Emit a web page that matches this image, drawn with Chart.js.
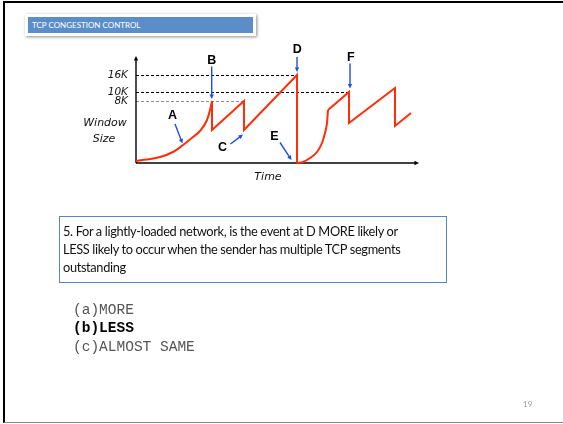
<!DOCTYPE html>
<html>
<head>
<meta charset="utf-8">
<script src="https://cdn.jsdelivr.net/npm/chart.js@4.4.0/dist/chart.umd.min.js"></script>
<style>
body { margin: 0; background: #fff; width: 563px; height: 424px; overflow: hidden; position: relative; }
#frame { position: absolute; left: 3px; top: 1px; width: 600px; height: 422px; box-sizing: border-box;
  border-top: 2px solid #000; border-left: 2px solid #000; border-bottom: 1px solid #8a8a8a; }
#mycanvas { position: absolute; left: 0; top: 0; }
#title { position: absolute; left: 25px; top: 14px; width: 231px; height: 22px; background: #fff;
  box-shadow: 1px 1px 3px rgba(0,0,0,0.45); }
#title div { position: absolute; left: 3px; top: 3px; width: 225px; height: 16px; background: #5b8ec8;
  color: #fff; font: 8px Lato, sans-serif; line-height: 16px; padding-left: 4px; box-sizing: border-box; }
#question { position: absolute; left: 59px; top: 216px; width: 388px; height: 67px; box-sizing: border-box;
  border: 1.5px solid #5a86c0; padding: 5px 0 0 3px; font: 12.8px Lato, sans-serif; line-height: 18px;
  letter-spacing: -0.35px; color: #111; white-space: nowrap; }
#options { position: absolute; left: 73px; top: 301px; font: 14.5px "Liberation Mono", monospace;
  line-height: 18.3px; color: #555; white-space: pre; }
#options .pick { font-weight: bold; color: #000; }
#page { position: absolute; left: 523px; top: 399px; font: 8px Lato, sans-serif; color: #999; }
</style>
</head>
<body>
<div id="frame"></div>
<canvas id="mycanvas" width="563" height="424"></canvas>
<div id="title"><div>TCP CONGESTION CONTROL</div></div>
<div id="question">5. For a lightly-loaded network, is the event at D MORE likely or<br>LESS likely to occur when the sender has multiple TCP segments<br>outstanding</div>
<div id="options"><div>(a)MORE</div><div class="pick">(b)LESS</div><div>(c)ALMOST SAME</div></div>
<div id="page">19</div>
<script>
// congestion window (schematic units) against time
var slowStart1Time = [0, 24, 37, 47, 57, 64, 71, 74, 76];
var slowStart1Win = [2, 6, 11, 18, 26, 32, 43, 53, 62];
var sawtoothTime = [76, 76, 108, 108, 161, 161];
var sawtoothWin = [62, 33, 62, 33, 88, 0];
var slowStart2Time = [161, 167, 174, 181, 186, 189, 191, 192];
var slowStart2Win = [0, 1, 5, 11, 20, 30, 40, 53];
var sawtooth2Time = [192, 213, 213, 259, 259, 275];
var sawtooth2Win = [53, 71, 40, 75, 37, 50];

var tickValues = [62, 71, 88];
var tickLabels = ['8K', '10K', '16K'];
var guideEnds = [108, 213, 161];

var RED = '#ff2d0a';
var BLUE = '#1f4fe0';

function points(xs, ys) {
	var out = [];
	for (var i = 0; i < xs.length; i++) out.push({x: xs[i], y: ys[i]});
	return out;
}

function lineSet(xs, ys, curved) {
	return {
		data: points(xs, ys),
		borderColor: RED,
		borderWidth: 2,
		pointRadius: 0,
		fill: false,
		clip: false,
		borderJoinStyle: 'miter',
		cubicInterpolationMode: curved ? 'monotone' : 'default',
		tension: 0
	};
}

function arrow(ctx, x1, y1, x2, y2, h) {
	var ang = Math.atan2(y2 - y1, x2 - x1);
	ctx.beginPath();
	ctx.moveTo(x1, y1);
	ctx.lineTo(x2 - Math.cos(ang) * h * 0.7, y2 - Math.sin(ang) * h * 0.7);
	ctx.stroke();
	ctx.beginPath();
	ctx.moveTo(x2, y2);
	ctx.lineTo(x2 - h * Math.cos(ang - 0.45), y2 - h * Math.sin(ang - 0.45));
	ctx.lineTo(x2 - h * Math.cos(ang + 0.45), y2 - h * Math.sin(ang + 0.45));
	ctx.closePath();
	ctx.fill();
}

// letter callouts, in data units: label position, arrow start, arrow end
var callouts = [
	{t: 'A', at: [36.5, 47], from: [39, 39], to: [46.5, 19.5]},
	{t: 'B', at: [75.7, 102.5], from: [75.7, 96.5], to: [75.7, 64]},
	{t: 'C', at: [86.5, 15.5], from: [94.5, 19], to: [107, 28.5]},
	{t: 'D', at: [161.3, 113], from: [161, 106], to: [161, 91]},
	{t: 'E', at: [138.3, 26.5], from: [144, 20.5], to: [155.5, 3]},
	{t: 'F', at: [214.7, 105.7], from: [214, 99.5], to: [214, 74.5]}
];

var extras = {
	id: 'extras',
	beforeDatasetsDraw: function(chart) {
		var ctx = chart.ctx, a = chart.chartArea, xs = chart.scales.x, ys = chart.scales.y;
		ctx.save();
		// dashed guides from the axis to the peaks
		ctx.lineWidth = 1;
		ctx.setLineDash([3, 2]);
		for (var i = 0; i < tickValues.length; i++) {
			ctx.strokeStyle = i == 0 ? '#8c8c8c' : '#000';
			var y = Math.round(ys.getPixelForValue(tickValues[i])) + 0.5;
			ctx.beginPath();
			ctx.moveTo(a.left, y);
			ctx.lineTo(xs.getPixelForValue(guideEnds[i]), y);
			ctx.stroke();
		}
		ctx.setLineDash([]);
		// axes with arrow heads
		ctx.strokeStyle = '#000';
		ctx.fillStyle = '#000';
		ctx.lineWidth = 1.4;
		arrow(ctx, a.left, a.bottom, a.left, a.top - 1, 5);
		arrow(ctx, a.left, a.bottom, a.right + 1, a.bottom, 5);
		// axis titles
		ctx.font = 'italic 11px "DejaVu Sans"';
		ctx.textAlign = 'center';
		ctx.textBaseline = 'middle';
		ctx.fillStyle = '#111';
		ctx.fillText('Window', a.left - 31, ys.getPixelForValue(40));
		ctx.fillText('Size', a.left - 32, ys.getPixelForValue(24));
		ctx.fillText('Time', xs.getPixelForValue(132), a.bottom + 14);
		ctx.restore();
	},
	afterDatasetsDraw: function(chart) {
		var ctx = chart.ctx, xs = chart.scales.x, ys = chart.scales.y;
		ctx.save();
		ctx.font = 'bold 12.5px "Liberation Sans"';
		ctx.textAlign = 'center';
		ctx.textBaseline = 'middle';
		ctx.strokeStyle = BLUE;
		ctx.lineWidth = 1.4;
		callouts.forEach(function(c) {
			ctx.fillStyle = '#000';
			ctx.fillText(c.t, xs.getPixelForValue(c.at[0]), ys.getPixelForValue(c.at[1]));
			ctx.fillStyle = BLUE;
			arrow(ctx, xs.getPixelForValue(c.from[0]), ys.getPixelForValue(c.from[1]),
				xs.getPixelForValue(c.to[0]), ys.getPixelForValue(c.to[1]), 5);
		});
		ctx.restore();
	}
};

var ctx = document.getElementById('mycanvas');

var chart = new Chart(ctx, {
	type: 'line',
	data: {
		datasets: [
			lineSet(slowStart1Time, slowStart1Win, true),
			lineSet(sawtoothTime, sawtoothWin, false),
			lineSet(slowStart2Time, slowStart2Win, true),
			lineSet(sawtooth2Time, sawtooth2Win, false)
		]
	},
	options: {
		responsive: false,
		animation: false,
		events: [],
		layout: {padding: {left: 96, right: 145, top: 57, bottom: 261}},
		plugins: {legend: {display: false}, tooltip: {enabled: false}},
		scales: {
			x: {type: 'linear', min: 0, max: 282, display: false},
			y: {
				type: 'linear', min: 0, max: 106,
				grid: {display: false, drawTicks: false},
				border: {display: false},
				afterFit: function(s) { s.width = 40; },
				afterBuildTicks: function(s) {
					s.ticks = tickValues.map(function(v) { return {value: v}; });
				},
				ticks: {
					autoSkip: false,
					padding: 8,
					color: '#111',
					font: {family: 'DejaVu Sans', size: 10.5, style: 'italic'},
					callback: function(v) { return tickLabels[tickValues.indexOf(v)]; }
				}
			}
		}
	},
	plugins: [extras]
});
</script>
</body>
</html>
